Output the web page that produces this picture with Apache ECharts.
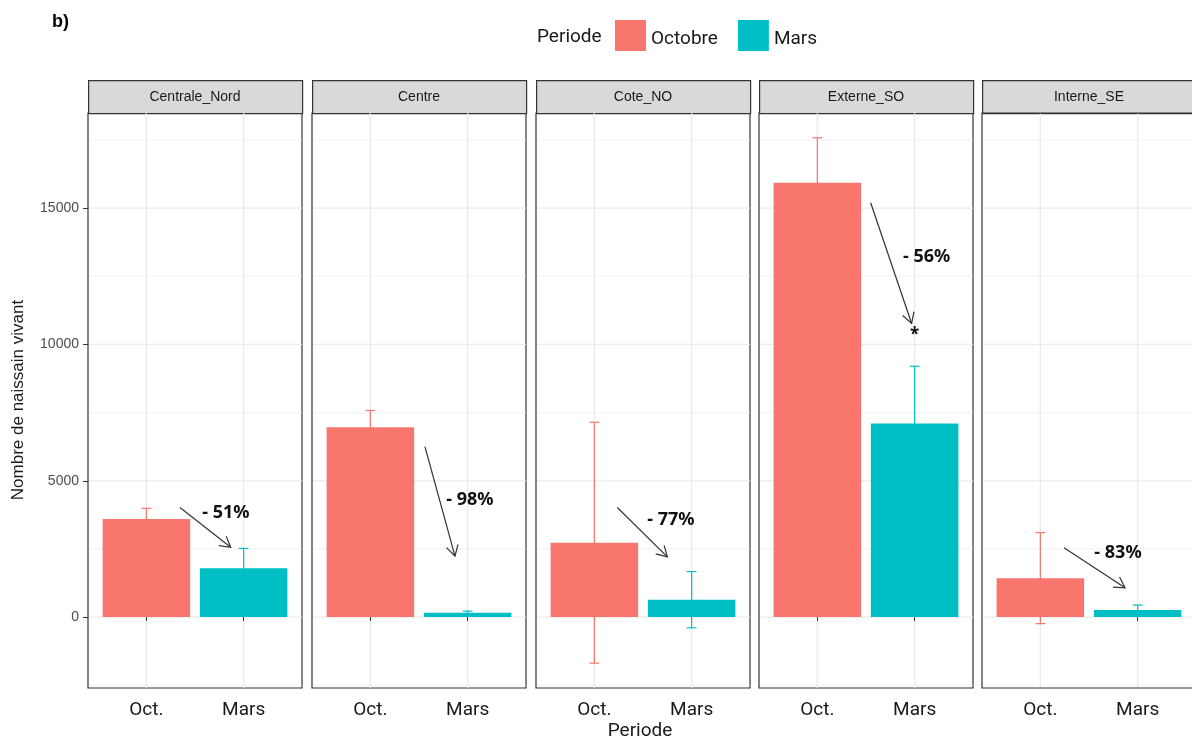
<!DOCTYPE html>
<html>
<head>
<meta charset="utf-8">
<script src="https://cdn.jsdelivr.net/npm/echarts@6.0.0/dist/echarts.min.js"></script>
<style>
  html, body { margin: 0; padding: 0; background: #fff; }
  #main { width: 1192px; height: 738px; }
</style>
</head>
<body>
<div id="main"></div>
<script>
// facettes et valeurs
const panels = ['Centrale_Nord', 'Centre', 'Cote_NO', 'Externe_SO', 'Interne_SE'];
const periodes = ['Octobre', 'Mars'];
const xLabels = ['Oct.', 'Mars'];
const octMean = [3600, 6960, 2730, 15930, 1430];
const octSe = [390, 620, 4420, 1650, 1670];
const marsMean = [1790, 160, 640, 7100, 257];
const marsSe = [730, 60, 1030, 2100, 185];

// annotations (fleches + pourcentage de baisse)
const changes = ['- 51%', '- 98%', '- 77%', '- 56%', '- 83%'];
const arrowFrom = [[1.345, 4020], [1.561, 6250], [1.236, 4020], [1.548, 15200], [1.243, 2540]];
const arrowTo = [[1.867, 2560], [1.870, 2240], [1.750, 2210], [1.969, 10770], [1.870, 1075]];
const labelAt = [[1.818, 3815], [2.024, 4290], [1.787, 3560], [2.124, 13220], [1.798, 2340]];
const stars = ['', '', '', '*', ''];
const starAt = [2, 10350];

// axe y
const yTicks = [0, 5000, 10000, 15000];
const yGrid = [-2500, 0, 2500, 5000, 7500, 10000, 12500, 15000, 17500];
const xGrid = [1, 2];

const colors = ['#F8766D', '#00BFC4'];
const lefts = [88, 312, 536, 759, 982];
const widths = [214, 214, 214, 214, 210];
const panelTop = 113, panelH = 575;

const chart = echarts.init(document.getElementById('main'));

function hLines(params, api) {
  const v = api.value(0);
  const a = api.coord([0.41, v]);
  const b = api.coord([2.6, v]);
  const major = v % 5000 === 0;
  return {
    type: 'line',
    shape: { x1: a[0], y1: a[1], x2: b[0], y2: b[1] },
    style: { stroke: '#ebebeb', lineWidth: major ? 1.3 : 0.7 }
  };
}

function vLines(params, api) {
  const v = api.value(0);
  const a = api.coord([v, -2590]);
  const b = api.coord([v, 18480]);
  return {
    type: 'line',
    shape: { x1: a[0], y1: a[1], x2: b[0], y2: b[1] },
    style: { stroke: '#ebebeb', lineWidth: 1.3 }
  };
}

function barItem(params, api) {
  const x = api.value(0), v = api.value(1);
  const p0 = api.coord([x - 0.45, 0]);
  const p1 = api.coord([x + 0.45, v]);
  return {
    type: 'rect',
    shape: { x: p0[0], y: Math.min(p0[1], p1[1]), width: p1[0] - p0[0], height: Math.abs(p1[1] - p0[1]) },
    style: { fill: api.visual('color') }
  };
}

function errItem(params, api) {
  const x = api.value(0), lo = api.value(1), hi = api.value(2);
  const a = api.coord([x, lo]), b = api.coord([x, hi]);
  const cl = api.coord([x - 0.05, hi]), cr = api.coord([x + 0.05, hi]);
  const dl = api.coord([x - 0.05, lo]), dr = api.coord([x + 0.05, lo]);
  const st = { stroke: api.visual('color'), lineWidth: 1.2 };
  return {
    type: 'group',
    children: [
      { type: 'line', shape: { x1: a[0], y1: a[1], x2: b[0], y2: b[1] }, style: st },
      { type: 'line', shape: { x1: cl[0], y1: cl[1], x2: cr[0], y2: cr[1] }, style: st },
      { type: 'line', shape: { x1: dl[0], y1: dl[1], x2: dr[0], y2: dr[1] }, style: st }
    ]
  };
}

function arrowItem(params, api) {
  const p = api.coord([api.value(0), api.value(1)]);
  const q = api.coord([api.value(2), api.value(3)]);
  const ang = Math.atan2(q[1] - p[1], q[0] - p[0]);
  const L = 12, w = Math.PI / 6;
  const h1 = [q[0] - L * Math.cos(ang - w), q[1] - L * Math.sin(ang - w)];
  const h2 = [q[0] - L * Math.cos(ang + w), q[1] - L * Math.sin(ang + w)];
  const st = { stroke: '#333', lineWidth: 1.2 };
  return {
    type: 'group',
    children: [
      { type: 'line', shape: { x1: p[0], y1: p[1], x2: q[0], y2: q[1] }, style: st },
      { type: 'polyline', shape: { points: [h1, q, h2] }, style: Object.assign({ fill: null }, st) }
    ]
  };
}

function textItem(txt, size) {
  return function (params, api) {
    const p = api.coord([api.value(0), api.value(1)]);
    return {
      type: 'text',
      x: p[0], y: p[1],
      style: {
        text: txt, align: 'center', verticalAlign: 'middle',
        fontSize: size, fontWeight: 'bold', fontFamily: '"Noto Sans", sans-serif', fill: '#111'
      }
    };
  };
}

const grids = [], xAxes = [], yAxes = [], series = [], graphics = [];

panels.forEach(function (name, i) {
  const last = i === panels.length - 1;
  grids.push({
    left: lefts[i], top: panelTop, width: widths[i], height: panelH,
    show: !last, borderColor: '#333', borderWidth: 1.2, backgroundColor: '#fff'
  });
  // derniere facette coupee a droite comme dans la figure
  const xmax = 0.4 + 2.2 * widths[i] / 214;
  xAxes.push({
    type: 'value', gridIndex: i, min: 0.4, max: xmax,
    axisLine: { show: false },
    splitLine: { show: false },
    axisTick: { show: true, customValues: [1, 2], length: 4, lineStyle: { color: '#333' } },
    axisLabel: {
      customValues: [1, 2], margin: 13,
      formatter: function (v) { return xLabels[Math.round(v) - 1]; },
      fontSize: 19, fontFamily: 'Roboto, sans-serif', color: '#1a1a1a'
    }
  });
  yAxes.push({
    type: 'value', gridIndex: i, min: -2600, max: 18490,
    axisLine: { show: false },
    splitLine: { show: false },
    axisTick: { show: i === 0, customValues: yTicks, length: 5, lineStyle: { color: '#333' } },
    axisLabel: {
      show: i === 0, customValues: yTicks, margin: 9,
      formatter: function (v) { return String(v); },
      fontSize: 14, fontFamily: '"Liberation Sans", Arial, sans-serif', color: '#4d4d4d'
    }
  });

  series.push({
    type: 'custom', name: 'hgrid' + i, xAxisIndex: i, yAxisIndex: i, silent: true, z: 0,
    renderItem: hLines, data: yGrid.map(function (v) { return [v]; })
  });
  series.push({
    type: 'custom', name: 'vgrid' + i, xAxisIndex: i, yAxisIndex: i, silent: true, z: 0,
    renderItem: vLines, data: xGrid.map(function (v) { return [v]; })
  });
  series.push({
    type: 'custom', name: 'errOct', xAxisIndex: i, yAxisIndex: i, z: 1,
    itemStyle: { color: colors[0] }, renderItem: errItem,
    data: [[1, octMean[i] - octSe[i], octMean[i] + octSe[i]]]
  });
  series.push({
    type: 'custom', name: 'errMars', xAxisIndex: i, yAxisIndex: i, z: 1,
    itemStyle: { color: colors[1] }, renderItem: errItem,
    data: [[2, marsMean[i] - marsSe[i], marsMean[i] + marsSe[i]]]
  });
  series.push({
    type: 'custom', name: periodes[0], xAxisIndex: i, yAxisIndex: i, z: 2,
    itemStyle: { color: colors[0] }, renderItem: barItem,
    data: [[1, octMean[i]]]
  });
  series.push({
    type: 'custom', name: periodes[1], xAxisIndex: i, yAxisIndex: i, z: 2,
    itemStyle: { color: colors[1] }, renderItem: barItem,
    data: [[2, marsMean[i]]]
  });
  series.push({
    type: 'custom', name: 'arrow' + i, xAxisIndex: i, yAxisIndex: i, z: 3, silent: true,
    renderItem: arrowItem, data: [arrowFrom[i].concat(arrowTo[i])]
  });
  series.push({
    type: 'custom', name: 'label' + i, xAxisIndex: i, yAxisIndex: i, z: 3, silent: true,
    renderItem: textItem(changes[i], 18), data: [labelAt[i]]
  });
  if (stars[i]) {
    series.push({
      type: 'custom', name: 'star' + i, xAxisIndex: i, yAxisIndex: i, z: 3, silent: true,
      renderItem: textItem(stars[i], 17), data: [starAt]
    });
  }

  // bandeau de facette
  graphics.push({
    type: 'rect', left: lefts[i], top: 80,
    shape: { width: 214, height: 33 },
    style: { fill: '#d9d9d9', stroke: '#333', lineWidth: 1.2 }
  });
  graphics.push({
    type: 'text', x: lefts[i] + 107, y: 97,
    style: {
      text: name, align: 'center', verticalAlign: 'middle',
      fontSize: 14, fontFamily: '"Liberation Sans", Arial, sans-serif', fill: '#1a1a1a'
    }
  });
  if (last) {
    // bord du panneau sans cote droit (coupe par le cadre)
    graphics.push({
      type: 'polyline', z: 10,
      shape: { points: [[1200, panelTop], [lefts[i], panelTop], [lefts[i], panelTop + panelH], [1200, panelTop + panelH]] },
      style: { fill: null, stroke: '#333', lineWidth: 1.2 }
    });
  }
});

graphics.push({
  type: 'text', x: 52, y: 22,
  style: { text: 'b)', verticalAlign: 'middle', fontSize: 18, fontWeight: 'bold',
    fontFamily: '"Liberation Sans", Arial, sans-serif', fill: '#000' }
});
graphics.push({
  type: 'text', x: 537, y: 37,
  style: { text: 'Periode', verticalAlign: 'middle', fontSize: 19,
    fontFamily: 'Roboto, sans-serif', fill: '#1a1a1a' }
});
graphics.push({
  type: 'text', x: 640, y: 731,
  style: { text: 'Periode', align: 'center', verticalAlign: 'middle', fontSize: 19,
    fontFamily: 'Roboto, sans-serif', fill: '#1a1a1a' }
});
graphics.push({
  type: 'text', x: 18, y: 400, rotation: Math.PI / 2,
  style: { text: 'Nombre de naissain vivant', align: 'center', verticalAlign: 'middle', fontSize: 17,
    fontFamily: '"Liberation Sans", Arial, sans-serif', fill: '#1a1a1a' }
});

chart.setOption({
  animation: false,
  backgroundColor: '#fff',
  legend: {
    data: periodes, left: 610, top: 15,
    icon: 'rect', itemWidth: 31, itemHeight: 31, itemGap: 20,
    selectedMode: false,
    formatter: '{t|{name}}',
    textStyle: {
      fontSize: 19, fontFamily: 'Roboto, sans-serif', color: '#1a1a1a',
      rich: { t: { fontSize: 19, fontFamily: 'Roboto, sans-serif', color: '#1a1a1a', padding: [7, 0, 0, 0] } }
    }
  },
  grid: grids,
  xAxis: xAxes,
  yAxis: yAxes,
  series: series,
  graphic: graphics
});
</script>
</body>
</html>
